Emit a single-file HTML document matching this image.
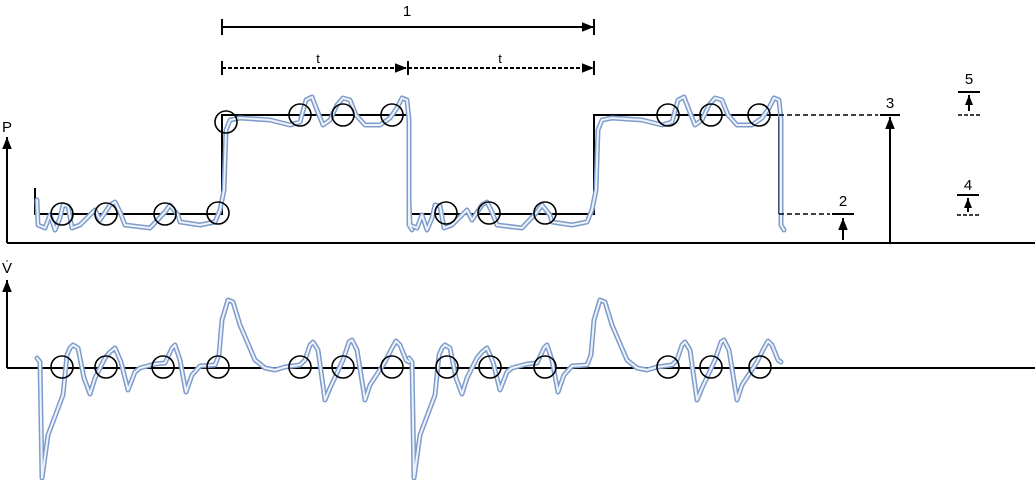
<!DOCTYPE html>
<html><head><meta charset="utf-8"><style>
html,body{margin:0;padding:0;background:#fff;width:1035px;height:480px;overflow:hidden}
text{font-family:"Liberation Sans",sans-serif;font-size:15px;fill:#000}
</style></head><body>
<svg width="1035" height="480" viewBox="0 0 1035 480" xmlns="http://www.w3.org/2000/svg">
<defs>
<marker id="ar" viewBox="0 0 10 10" refX="10" refY="5" markerWidth="10" markerHeight="10" markerUnits="userSpaceOnUse" orient="auto"><path d="M0,1 L10,5 L0,9 z" fill="#000"/></marker>
<marker id="arb" viewBox="0 0 10 10" refX="10" refY="5" markerWidth="16" markerHeight="12" markerUnits="userSpaceOnUse" orient="auto"><path d="M0,1 L10,5 L0,9 z" fill="#000"/></marker>
<g id="pw"><polyline fill="none" stroke-linejoin="round" stroke-linecap="round" points="37,200 38,225 45,228 50,215 55,230 60,218 63,205 68,206 72,228 80,225 95,210 100,220 110,205 115,202 120,212 125,225 150,228 165,212 170,205 178,215 180,222 200,225 215,222 220,210 224,190 226,130 230,120 240,118 270,120 290,125 300,122 306,100 312,97 317,110 323,125 330,120 337,105 343,98 350,100 356,115 365,125 380,125 390,118 397,108 402,98 407,100 409,120 409,225 412,230"/></g>
<g id="fw"><polyline fill="none" stroke-linejoin="round" stroke-linecap="round" points="37,358 40,362 42,478 48,435 63,395 67,355 70,348 73,345 78,348 84,378 90,394 95,378 105,358 110,352 115,348 121,362 128,390 135,372 140,368 155,364 165,363 172,348 175,345 180,360 186,392 192,375 200,366 215,365 219,355 222,320 228,300 233,302 240,325 255,360 265,368 275,370 285,367 300,365 305,360 310,345 313,342 318,350 325,400 330,388 343,360 349,342 352,340 357,350 365,400 370,385 385,362 392,348 396,341 400,345 406,360 409,362"/></g>
</defs>
<!-- top dimension lines -->
<line x1="222" y1="27" x2="594" y2="27" stroke="#000" stroke-width="2" marker-end="url(#arb)"/>
<line x1="222" y1="19" x2="222" y2="35" stroke="#000" stroke-width="2"/>
<line x1="594" y1="19" x2="594" y2="35" stroke="#000" stroke-width="2"/>
<text x="407" y="16" text-anchor="middle">1</text>
<line x1="222" y1="68" x2="407" y2="68" stroke="#000" stroke-width="2" stroke-dasharray="4,2" marker-end="url(#arb)"/>
<line x1="408" y1="68" x2="594" y2="68" stroke="#000" stroke-width="2" stroke-dasharray="4,2" marker-end="url(#arb)"/>
<line x1="222" y1="61" x2="222" y2="75" stroke="#000" stroke-width="2"/>
<line x1="408" y1="61" x2="408" y2="75" stroke="#000" stroke-width="2"/>
<line x1="594" y1="61" x2="594" y2="75" stroke="#000" stroke-width="2"/>
<text x="318" y="63" text-anchor="middle" style="font-size:13px">t</text>
<text x="500" y="63" text-anchor="middle" style="font-size:13px">t</text>
<!-- P axis -->
<line x1="7" y1="243" x2="1035" y2="243" stroke="#000" stroke-width="2"/>
<line x1="7" y1="243" x2="7" y2="137" stroke="#000" stroke-width="2" marker-end="url(#arb)"/>
<text x="7" y="132" text-anchor="middle">P</text>
<!-- square wave -->
<polyline fill="none" stroke="#000" stroke-width="2" points="35,188 35,214 222,214 222,115 408,115 408,214 594,214 594,115 779,115 779,214"/>
<!-- pressure waveform -->
<g stroke="#7e9ccb" stroke-width="5"><use href="#pw"/><use href="#pw" transform="translate(372,0)"/></g>
<g stroke="#eef2f9" stroke-width="2"><use href="#pw"/><use href="#pw" transform="translate(372,0)"/></g>
<!-- right annotations -->
<line x1="779" y1="214" x2="830" y2="214" stroke="#000" stroke-width="1.5" stroke-dasharray="5,3"/>
<line x1="832" y1="214" x2="854" y2="214" stroke="#000" stroke-width="2"/>
<line x1="843" y1="240" x2="843" y2="218" stroke="#000" stroke-width="2" marker-end="url(#arb)"/>
<text x="843" y="206" text-anchor="middle">2</text>
<line x1="779" y1="115" x2="878" y2="115" stroke="#000" stroke-width="1.5" stroke-dasharray="5,3"/>
<line x1="880" y1="115" x2="900" y2="115" stroke="#000" stroke-width="2"/>
<line x1="890" y1="242" x2="890" y2="117" stroke="#000" stroke-width="2" marker-end="url(#arb)"/>
<text x="890" y="108" text-anchor="middle">3</text>
<line x1="958" y1="92" x2="980" y2="92" stroke="#000" stroke-width="2"/>
<line x1="958" y1="115" x2="980" y2="115" stroke="#000" stroke-width="1.5" stroke-dasharray="4,2"/>
<line x1="969" y1="111" x2="969" y2="95" stroke="#000" stroke-width="2" marker-end="url(#ar)"/>
<text x="969" y="84" text-anchor="middle">5</text>
<line x1="957" y1="195" x2="979" y2="195" stroke="#000" stroke-width="2"/>
<line x1="957" y1="215" x2="979" y2="215" stroke="#000" stroke-width="1.5" stroke-dasharray="4,2"/>
<line x1="968" y1="212" x2="968" y2="198" stroke="#000" stroke-width="2" marker-end="url(#ar)"/>
<text x="968" y="190" text-anchor="middle">4</text>
<!-- circles top -->
<g fill="none" stroke="#000" stroke-width="1.6">
<circle cx="62" cy="214" r="11"/><circle cx="106" cy="214" r="11"/><circle cx="165" cy="214" r="11"/><circle cx="218" cy="213" r="11"/>
<circle cx="226" cy="122" r="11"/><circle cx="300" cy="115" r="11"/><circle cx="343" cy="115" r="11"/><circle cx="392" cy="115" r="11"/>
<circle cx="446" cy="213" r="11"/><circle cx="489" cy="213" r="11"/><circle cx="545" cy="213" r="11"/>
<circle cx="668" cy="115" r="11"/><circle cx="711" cy="115" r="11"/><circle cx="759" cy="115" r="11"/>
</g>
<!-- V axis -->
<line x1="7" y1="368" x2="1035" y2="368" stroke="#000" stroke-width="2"/>
<line x1="7" y1="368" x2="7" y2="280" stroke="#000" stroke-width="2" marker-end="url(#arb)"/>
<text x="7" y="273" text-anchor="middle">V̇</text>
<g stroke="#7e9ccb" stroke-width="5"><use href="#fw"/><use href="#fw" transform="translate(372,0)"/></g>
<g stroke="#eef2f9" stroke-width="2"><use href="#fw"/><use href="#fw" transform="translate(372,0)"/></g>
<g fill="none" stroke="#000" stroke-width="1.6">
<circle cx="62" cy="367" r="11"/><circle cx="106" cy="367" r="11"/><circle cx="163" cy="367" r="11"/><circle cx="218" cy="367" r="11"/>
<circle cx="300" cy="367" r="11"/><circle cx="343" cy="367" r="11"/><circle cx="392" cy="367" r="11"/>
<circle cx="447" cy="367" r="11"/><circle cx="490" cy="367" r="11"/><circle cx="545" cy="367" r="11"/>
<circle cx="668" cy="367" r="11"/><circle cx="711" cy="367" r="11"/><circle cx="760" cy="367" r="11"/>
</g>
</svg>
</body></html>
